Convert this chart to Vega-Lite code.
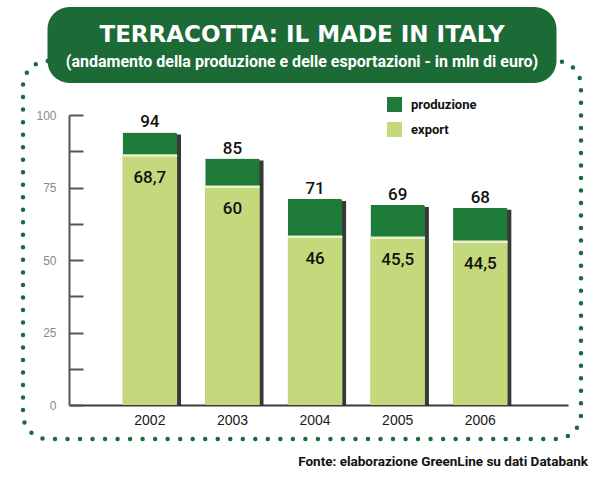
{
  "$schema": "https://vega.github.io/schema/vega-lite/v6.json",
  "background": "white",
  "padding": {"left": 20, "top": 2, "right": 0, "bottom": 0},
  "config": {
    "locale": {"number": {"decimal": ",", "thousands": ".", "grouping": [3], "currency": ["", " €"]}}
  },
  "vconcat": [
    {
      "width": 465,
      "height": 32,
      "view": {"fill": "#1c6b36", "stroke": "#1c6b36", "strokeWidth": 44, "strokeJoin": "round", "cornerRadius": 0},
      "data": {"values": [
        {"riga": "titolo", "testo": "TERRACOTTA: IL MADE IN ITALY"},
        {"riga": "sottotitolo", "testo": "(andamento della produzione e delle esportazioni - in mln di euro)"}
      ]},
      "layer": [
        {
          "transform": [{"filter": "datum.riga === 'titolo'"}],
          "mark": {"type": "text", "font": "DejaVu Sans", "fontWeight": "bold", "fontSize": 23, "color": "white", "baseline": "alphabetic", "align": "center"},
          "encoding": {
            "text": {"field": "testo", "type": "nominal"},
            "y": {"field": "riga", "type": "nominal", "scale": {"domain": ["titolo", "sottotitolo"], "range": [13, 38], "padding": 0}, "axis": null}
          }
        },
        {
          "transform": [{"filter": "datum.riga === 'sottotitolo'"}],
          "mark": {"type": "text", "font": "Roboto", "fontWeight": "bold", "fontSize": 16, "color": "white", "baseline": "alphabetic", "align": "center"},
          "encoding": {
            "text": {"field": "testo", "type": "nominal"},
            "y": {"field": "riga", "type": "nominal"}
          }
        }
      ]
    },
    {
      "width": 558,
      "height": 378,
      "view": {
        "fill": null,
        "stroke": "#1a6b3a",
        "strokeWidth": 4.5,
        "strokeCap": "round",
        "cornerRadius": 25,
        "strokeDash": [0, 514, 0, 12.52, 0, 12.52, 0, 12.52, 0, 12.52, 0, 12.52, 0, 12.52, 0, 12.52, 0, 12.52, 0, 12.52, 0, 12.52, 0, 12.52, 0, 12.52, 0, 12.52, 0, 12.52, 0, 12.52, 0, 12.52, 0, 12.52, 0, 12.52, 0, 12.52, 0, 12.52, 0, 12.52, 0, 12.52, 0, 12.52, 0, 12.52, 0, 12.52, 0, 12.52, 0, 12.52, 0, 12.52, 0, 12.52, 0, 12.52, 0, 12.52, 0, 12.52, 0, 12.52, 0, 12.52, 0, 12.52, 0, 12.52, 0, 12.52, 0, 12.52, 0, 12.52, 0, 12.52, 0, 12.52, 0, 12.52, 0, 12.52, 0, 12.52, 0, 12.52, 0, 12.52, 0, 12.52, 0, 12.52, 0, 12.52, 0, 12.52, 0, 12.52, 0, 12.52, 0, 12.52, 0, 12.52, 0, 12.52, 0, 12.52, 0, 12.52, 0, 12.52, 0, 12.52, 0, 12.52, 0, 12.52, 0, 12.52, 0, 12.52, 0, 12.52, 0, 12.52, 0, 12.52, 0, 12.52, 0, 12.52, 0, 12.52, 0, 12.52, 0, 12.52, 0, 12.52, 0, 12.52, 0, 12.52, 0, 12.52, 0, 12.52, 0, 12.52, 0, 12.52, 0, 12.52, 0, 12.52, 0, 12.52, 0, 12.52, 0, 12.52, 0, 12.52, 0, 12.52, 0, 12.52, 0, 12.52, 0, 12.52, 0, 12.52, 0, 12.52, 0, 12.52, 0, 12.52, 0, 12.52, 0, 12.52, 0, 12.52, 0, 12.52, 0, 12.52, 0, 12.52, 0, 12.52, 0, 12.52, 0, 12.52, 0, 12.52, 0, 12.52, 0, 12.52, 0, 12.52, 0, 12.52, 0, 12.52, 0, 12.52, 0, 12.52, 0, 12.52, 0, 12.52, 0, 12.52, 0, 12.52, 0, 12.52]
      },
      "title": {
        "text": "Fonte: elaborazione GreenLine su dati Databank",
        "orient": "bottom",
        "anchor": "end",
        "frame": "group",
        "font": "Roboto",
        "fontWeight": "bold",
        "fontSize": 13.5,
        "color": "#111111",
        "offset": 16,
        "dx": 7
      },
      "data": {"values": [
        {"anno": "2002", "produzione": 94, "export": 68.7, "export_grafico": 86},
        {"anno": "2003", "produzione": 85, "export": 60, "export_grafico": 75.3},
        {"anno": "2004", "produzione": 71, "export": 46, "export_grafico": 58},
        {"anno": "2005", "produzione": 69, "export": 45.5, "export_grafico": 57.7},
        {"anno": "2006", "produzione": 68, "export": 44.5, "export_grafico": 56.3}
      ]},
      "encoding": {
        "x": {
          "field": "anno", "type": "nominal",
          "scale": {"range": [46, 545], "paddingInner": 0.34, "paddingOuter": 0.69, "align": 0.47},
          "axis": {"orient": "bottom", "offset": -34, "ticks": false, "domainColor": "#3a3a3a", "domainWidth": 2, "labelColor": "#1a1a1a", "labelFont": "Liberation Sans", "labelFontSize": 14, "labelPadding": 8, "labelAngle": 0, "title": null}
        }
      },
      "layer": [
        {
          "mark": {"type": "bar", "color": "#151515", "opacity": 0.85, "xOffset": 4, "yOffset": 2, "cornerRadiusTopRight": 2},
          "encoding": {
            "y": {
              "field": "produzione", "type": "quantitative",
              "scale": {"domain": [0, 100], "range": [344, 54], "nice": false, "zero": true},
              "axis": {"orient": "left", "offset": -46, "values": [0, 12.5, 25, 37.5, 50, 62.5, 75, 87.5, 100], "labelExpr": "datum.value % 25 === 0 ? datum.label : ''", "tickSize": -14, "tickWidth": 2, "tickColor": "#555555", "domainColor": "#555555", "domainWidth": 2, "labelColor": "#8a8a8a", "labelFont": "Liberation Sans", "labelFontSize": 12, "labelPadding": 27, "grid": false, "title": null}
            }
          }
        },
        {
          "mark": {"type": "bar", "cornerRadiusTopRight": 2, "cornerRadiusTopLeft": 1},
          "encoding": {
            "y": {"field": "produzione", "type": "quantitative"},
            "color": {
              "datum": "produzione",
              "scale": {"domain": ["produzione", "export"], "range": ["#1e7b37", "#c3d97c"]},
              "legend": {"orient": "none", "legendX": 364, "legendY": 68, "title": null, "symbolType": "square", "symbolSize": 225, "symbolStrokeWidth": 0, "symbolOpacity": 1, "labelFont": "Roboto", "labelFontWeight": "bold", "labelFontSize": 13, "labelColor": "#111111", "rowPadding": 10, "labelOffset": 9, "padding": 0}
            }
          }
        },
        {
          "mark": {"type": "bar"},
          "encoding": {
            "y": {"field": "export_grafico", "type": "quantitative"},
            "color": {"datum": "export"}
          }
        },
        {
          "mark": {"type": "bar", "fill": "transparent", "stroke": "#eaf1cc", "strokeWidth": 2.5},
          "encoding": {
            "y": {"field": "export_grafico", "type": "quantitative"},
            "y2": {"field": "export_grafico"}
          }
        },
        {
          "mark": {"type": "text", "font": "Roboto", "fontWeight": 500, "fontSize": 17, "color": "#111111", "baseline": "alphabetic", "dy": -5},
          "encoding": {
            "y": {"field": "produzione", "type": "quantitative"},
            "text": {"field": "produzione", "type": "quantitative"}
          }
        },
        {
          "mark": {"type": "text", "font": "Roboto", "fontWeight": 500, "fontSize": 17, "color": "#111111", "baseline": "alphabetic", "dy": 27},
          "encoding": {
            "y": {"field": "export_grafico", "type": "quantitative"},
            "text": {"field": "export", "type": "quantitative", "format": ".1~f"}
          }
        }
      ]
    }
  ],
  "spacing": 0,
  "center": true,
  "bounds": "flush"
}
